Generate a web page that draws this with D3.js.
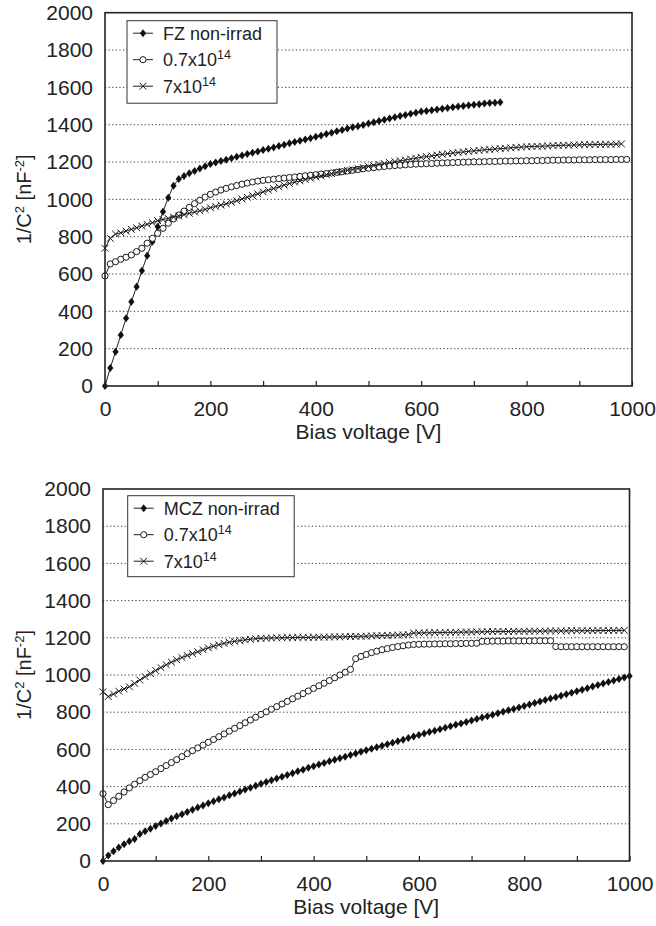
<!DOCTYPE html>
<html>
<head>
<meta charset="utf-8">
<script src="https://cdn.jsdelivr.net/npm/d3@7"></script>
<style>
  body { margin: 0; background: #fff; }
  svg text { font-family: "Liberation Sans", Arial, sans-serif; fill: #222; }
</style>
</head>
<body>
<div id="chart"></div>
<script>
// voltage step between measured points [V]
const VSTEP = 10;

const xTicks = [0, 100, 200, 300, 400, 500, 600, 700, 800, 900, 1000];
const yTicks = [0, 200, 400, 600, 800, 1000, 1200, 1400, 1600, 1800, 2000];

// ---- upper panel (FZ), 1/C^2 [nF^-2] every 10 V starting at 0 V ----
const fzNonIrrad = [
  0, 96, 184, 273, 363, 452, 532, 618, 698, 773,
  853, 934, 1009, 1073, 1109, 1125, 1140, 1152, 1165, 1177,
  1189, 1197, 1205, 1212, 1220, 1228, 1235, 1243, 1250, 1257,
  1264, 1271, 1278, 1286, 1293, 1300, 1307, 1314, 1321, 1328,
  1335, 1342, 1350, 1357, 1365, 1372, 1379, 1386, 1392, 1399,
  1406, 1413, 1420, 1427, 1433, 1440, 1446, 1452, 1458, 1464,
  1470, 1474, 1478, 1482, 1486, 1490, 1494, 1497, 1500, 1504,
  1507, 1510, 1513, 1516, 1518, 1520
];
const fzLow = [
  590, 654, 666, 679, 690, 702, 720, 738, 765, 791,
  818, 845, 872, 895, 916, 937, 957, 977, 995, 1012,
  1027, 1039, 1050, 1059, 1067, 1074, 1081, 1087, 1093, 1098,
  1102, 1105, 1108, 1111, 1114, 1117, 1120, 1123, 1126, 1129,
  1132, 1135, 1138, 1141, 1145, 1148, 1152, 1156, 1160, 1164,
  1167, 1170, 1173, 1176, 1179, 1181, 1183, 1185, 1187, 1189,
  1190, 1191, 1192, 1194, 1195, 1196, 1197, 1198, 1199, 1200,
  1201, 1201, 1202, 1203, 1203, 1204, 1205, 1205, 1206, 1206,
  1207, 1207, 1208, 1208, 1209, 1210, 1210, 1211, 1211, 1211,
  1212, 1212, 1212, 1213, 1213, 1213, 1213, 1214, 1214, 1214
];
const fzHigh = [
  738, 791, 814, 821, 830, 839, 848, 857, 866, 875,
  886, 892, 898, 905, 911, 918, 925, 932, 939, 946,
  955, 962, 969, 976, 984, 993, 1002, 1011, 1020, 1030,
  1040, 1049, 1058, 1067, 1076, 1085, 1092, 1099, 1106, 1113,
  1120, 1126, 1132, 1138, 1144, 1150, 1155, 1160, 1165, 1170,
  1176, 1181, 1187, 1192, 1197, 1202, 1207, 1211, 1216, 1220,
  1225, 1229, 1233, 1237, 1241, 1245, 1248, 1251, 1254, 1257,
  1260, 1262, 1265, 1267, 1270, 1272, 1274, 1276, 1278, 1280,
  1282, 1283, 1284, 1285, 1286, 1288, 1289, 1290, 1290, 1291,
  1292, 1293, 1293, 1294, 1294, 1295, 1295, 1296, 1297
];

// ---- lower panel (MCZ) ----
const mczNonIrrad = [
  0, 30, 52, 72, 90, 106, 118, 145, 160, 174,
  188, 202, 215, 228, 240, 252, 264, 276, 288, 299,
  310, 321, 332, 342, 353, 363, 374, 384, 394, 405,
  415, 425, 434, 444, 453, 463, 472, 482, 491, 501,
  510, 519, 527, 536, 544, 553, 561, 570, 578, 587,
  595, 603, 611, 620, 628, 636, 644, 652, 661, 669,
  677, 685, 693, 700, 708, 716, 724, 732, 739, 747,
  755, 763, 771, 778, 786, 794, 802, 810, 817, 825,
  833, 841, 849, 857, 865, 873, 881, 889, 897, 905,
  913, 921, 929, 938, 946, 954, 962, 970, 979, 987,
  995
];
const mczLow = [
  362, 303, 325, 348, 371, 393, 413, 432, 450, 465,
  480, 497, 513, 529, 545, 561, 577, 593, 608, 623,
  638, 653, 668, 683, 698, 713, 728, 743, 758, 773,
  788, 802, 816, 830, 844, 858, 872, 886, 900, 914,
  928, 942, 956, 970, 985, 1000, 1015, 1030, 1088, 1100,
  1110, 1120, 1128, 1136, 1142, 1148, 1153, 1157, 1161, 1164,
  1165, 1166, 1166, 1167, 1167, 1168, 1168, 1169, 1169, 1170,
  1170, 1171, 1181, 1181, 1182, 1182, 1182, 1183, 1183, 1183,
  1183, 1183, 1184, 1184, 1184, 1184, 1153, 1152, 1152, 1152,
  1152, 1152, 1152, 1152, 1152, 1152, 1152, 1152, 1152, 1152
];
const mczHigh = [
  910, 884, 898, 913, 925, 937, 955, 973, 991, 1008,
  1024, 1040, 1055, 1069, 1082, 1094, 1105, 1115, 1125, 1136,
  1146, 1155, 1163, 1170, 1176, 1181, 1185, 1189, 1192, 1195,
  1197, 1198, 1199, 1200, 1200, 1201, 1201, 1202, 1202, 1202,
  1203, 1203, 1204, 1204, 1205, 1205, 1206, 1207, 1208, 1208,
  1209, 1210, 1211, 1212, 1213, 1214, 1215, 1216, 1217, 1226,
  1226, 1227, 1227, 1228, 1228, 1229, 1229, 1230, 1230, 1231,
  1231, 1232, 1232, 1233, 1233, 1234, 1234, 1234, 1235, 1235,
  1235, 1236, 1236, 1236, 1236, 1237, 1237, 1237, 1237, 1238,
  1238, 1238, 1238, 1238, 1239, 1239, 1239, 1239, 1240, 1240
];

const panels = [
  {
    left: 105, right: 632, top: 12.7, bottom: 386,
    legend: { x: 127, y: 20.7, w: 150, h: 82.5 },
    series: [
      { name: "FZ non-irrad", sup: null, values: fzNonIrrad, marker: "diamond" },
      { name: "0.7x10", sup: "14", values: fzLow, marker: "circle" },
      { name: "7x10", sup: "14", values: fzHigh, marker: "cross" },
    ],
  },
  {
    left: 103, right: 629.5, top: 489, bottom: 861,
    legend: { x: 127.7, y: 495.7, w: 166.5, h: 81 },
    series: [
      { name: "MCZ non-irrad", sup: null, values: mczNonIrrad, marker: "diamond" },
      { name: "0.7x10", sup: "14", values: mczLow, marker: "circle" },
      { name: "7x10", sup: "14", values: mczHigh, marker: "cross" },
    ],
  },
];

const svg = d3.select("#chart").append("svg").attr("width", 656).attr("height", 926);

function drawMarker(sel, type) {
  if (type === "diamond") {
    sel.append("path").attr("d", "M0,-4L3.1,0L0,4L-3.1,0Z").attr("fill", "#111");
  } else if (type === "circle") {
    sel.append("circle").attr("r", 3.1).attr("fill", "#fff").attr("stroke", "#1a1a1a").attr("stroke-width", 1);
  } else {
    sel.append("path").attr("d", "M-3.4,-3.4L3.4,3.4M-3.4,3.4L3.4,-3.4").attr("fill", "none").attr("stroke", "#1a1a1a").attr("stroke-width", 1);
  }
}

panels.forEach((p) => {
  const x = d3.scaleLinear().domain([0, 1000]).range([p.left, p.right]);
  const y = d3.scaleLinear().domain([0, 2000]).range([p.bottom, p.top]);
  const g = svg.append("g");

  // dotted gridlines
  g.selectAll("line.grid")
    .data(yTicks.filter((v) => v > 0 && v < 2000))
    .join("line")
    .attr("class", "grid")
    .attr("x1", p.left)
    .attr("x2", p.right)
    .attr("y1", (d) => y(d))
    .attr("y2", (d) => y(d))
    .attr("stroke", "#333")
    .attr("stroke-width", 1)
    .attr("stroke-dasharray", "1.2,2.4");

  const line = d3.line().x((d) => x(d[0])).y((d) => y(d[1]));

  p.series.forEach((s) => {
    const pts = s.values.map((v, i) => [i * VSTEP, v]);
    g.append("path").datum(pts).attr("d", line).attr("fill", "none").attr("stroke", "#222").attr("stroke-width", 1);
    g.append("g")
      .selectAll("g")
      .data(pts)
      .join("g")
      .attr("transform", (d) => `translate(${x(d[0])},${y(d[1])})`)
      .each(function () {
        drawMarker(d3.select(this), s.marker);
      });
  });

  // frame
  g.append("rect")
    .attr("x", p.left)
    .attr("y", p.top)
    .attr("width", p.right - p.left)
    .attr("height", p.bottom - p.top)
    .attr("fill", "none")
    .attr("stroke", "#222")
    .attr("stroke-width", 1.6);

  // axes
  const xAxis = g.append("g")
    .attr("transform", `translate(0,${p.bottom})`)
    .call(
      d3.axisBottom(x)
        .tickValues(xTicks)
        .tickSizeInner(-5)
        .tickSizeOuter(0)
        .tickPadding(15)
        .tickFormat((d) => (d % 200 === 0 ? d : ""))
    );
  xAxis.select(".domain").remove();
  xAxis.selectAll("line").attr("stroke", "#222").attr("stroke-width", 1.2);
  xAxis.selectAll("text").attr("font-size", 21).attr("fill", "#222");

  const yAxis = g.append("g")
    .attr("transform", `translate(${p.left},0)`)
    .call(d3.axisLeft(y).tickValues(yTicks).tickSize(0).tickPadding(12).tickFormat(d3.format("d")));
  yAxis.select(".domain").remove();
  yAxis.selectAll("text").attr("font-size", 21).attr("fill", "#222");

  // axis titles
  g.append("text")
    .attr("x", (p.left + p.right) / 2)
    .attr("y", p.bottom + 53)
    .attr("text-anchor", "middle")
    .attr("font-size", 21)
    .text("Bias voltage [V]");

  const yt = g.append("text")
    .attr("transform", `translate(31,${(p.top + p.bottom) / 2}) rotate(-90)`)
    .attr("text-anchor", "middle")
    .attr("font-size", 20);
  yt.append("tspan").text("1/C");
  yt.append("tspan").attr("dy", -7).attr("font-size", 13).text("2");
  yt.append("tspan").attr("dy", 7).text(" [nF");
  yt.append("tspan").attr("dy", -7).attr("font-size", 13).text("-2");
  yt.append("tspan").attr("dy", 7).text("]");

  // legend
  const L = p.legend;
  const lg = g.append("g").attr("transform", `translate(${L.x},${L.y})`);
  lg.append("rect")
    .attr("width", L.w)
    .attr("height", L.h)
    .attr("fill", "#fff")
    .attr("stroke", "#333")
    .attr("stroke-width", 1);
  const rows = lg.selectAll("g.row")
    .data(p.series)
    .join("g")
    .attr("class", "row")
    .attr("transform", (d, i) => `translate(0,${12.5 + i * 26.5})`);
  rows.append("line").attr("x1", 6).attr("x2", 26).attr("stroke", "#222").attr("stroke-width", 1);
  rows.append("g").attr("transform", "translate(16,0)").each(function (d) {
    drawMarker(d3.select(this), d.marker);
  });
  const lt = rows.append("text").attr("x", 36).attr("y", 6.3).attr("font-size", 18);
  lt.append("tspan").text((d) => d.name);
  lt.filter((d) => d.sup)
    .append("tspan")
    .attr("dy", -7)
    .attr("font-size", 12.5)
    .text((d) => d.sup);
});
</script>
</body>
</html>
